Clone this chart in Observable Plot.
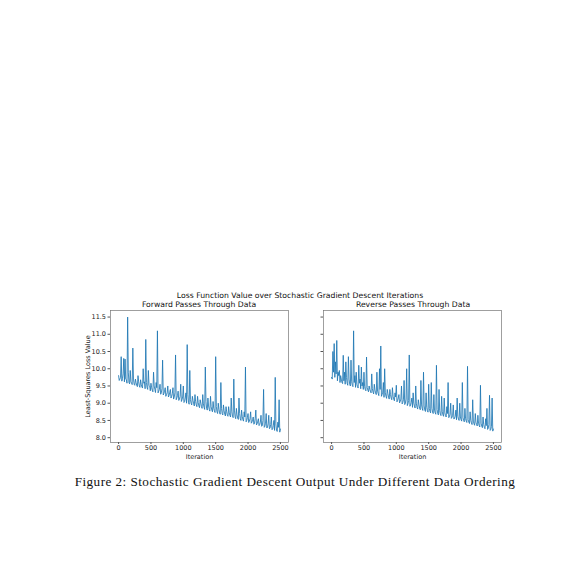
<!DOCTYPE html>
<html>
<head>
<meta charset="utf-8">
<script src="https://cdn.jsdelivr.net/npm/d3@7"></script>
<script src="https://cdn.jsdelivr.net/npm/@observablehq/plot@0.6"></script>
<style>
  html, body { margin: 0; padding: 0; background: #fff; width: 578px; height: 578px; overflow: hidden; }
  .abs { position: absolute; }
  .t { font-family: "DejaVu Sans", sans-serif; font-size: 7.7px; color: #111; white-space: nowrap; transform: translateX(-50%); }
  #caption { font-family: "Liberation Serif", serif; font-size: 13.2px; letter-spacing: 0.45px; color: #111; white-space: nowrap; transform: translateX(-50%); }
</style>
</head>
<body>
<div id="suptitle" class="abs t" style="left:300px; top:291px;">Loss Function Value over Stochastic Gradient Descent Iterations</div>
<div id="t1" class="abs t" style="left:199px; top:300px;">Forward Passes Through Data</div>
<div id="t2" class="abs t" style="left:413px; top:300px;">Reverse Passes Through Data</div>
<div id="left" class="abs" style="left:72px; top:308px;"></div>
<div id="right" class="abs" style="left:317px; top:308px;"></div>
<div id="caption" class="abs" style="left:295px; top:474px;">Figure 2: Stochastic Gradient Descent Output Under Different Data Ordering</div>
<script>
// Sampled iterations: even samples at 0,20,...,2500 and odd samples at 10,30,...,2490
const iterationsA = d3.range(0, 2501, 20);
const iterationsB = d3.range(10, 2500, 20);

// Forward passes: loss values (at iterationsA)
const forwardLossA = [
  9.80, 9.70, 10.35, 9.72, 10.30, 10.28, 9.68, 11.50, 9.60, 9.95,
  9.58, 10.60, 9.55, 9.70, 9.52, 9.80, 9.50, 9.68, 9.47, 10.00,
  9.62, 10.85, 9.45, 9.95, 9.50, 9.58, 9.38, 9.90, 9.40, 9.60,
  11.10, 9.35, 9.55, 9.30, 10.25, 9.28, 9.45, 9.25, 9.50, 9.22,
  9.40, 9.20, 9.45, 9.18, 10.40, 9.15, 9.35, 9.12, 9.55, 9.10,
  9.50, 9.05, 9.30, 10.70, 9.02, 9.95, 9.00, 9.20, 8.98, 9.25,
  8.95, 9.20, 8.92, 9.10, 8.90, 9.25, 8.88, 10.05, 8.85, 9.15,
  8.82, 9.20, 8.80, 9.05, 8.78, 10.35, 8.75, 9.00, 8.72, 9.60,
  8.70, 8.95, 8.68, 8.90, 8.65, 8.90, 8.64, 9.15, 8.62, 9.70,
  8.60, 8.85, 8.57, 9.15, 8.55, 8.80, 8.52, 8.75, 10.05, 8.50,
  8.70, 8.48, 8.75, 8.45, 8.60, 8.42, 8.80, 8.40, 8.55, 8.38,
  8.65, 8.35, 9.40, 8.33, 8.70, 8.30, 8.65, 8.28, 8.60, 8.25,
  8.50, 9.75, 8.22, 8.45, 9.10, 8.25
];
// Forward passes: loss values (at iterationsB)
const forwardLossB = [
  9.66, 9.75, 9.64, 9.85, 9.62, 9.70, 9.58, 9.90, 9.56, 9.62,
  9.54, 9.70, 9.52, 9.60, 9.48, 9.62, 9.46, 9.55, 9.44, 9.58,
  9.42, 9.60, 9.40, 9.52, 9.36, 9.45, 9.33, 9.50, 9.31, 9.45,
  9.30, 9.40, 9.26, 9.42, 9.24, 9.35, 9.20, 9.30, 9.18, 9.32,
  9.15, 9.28, 9.12, 9.30, 9.10, 9.22, 9.08, 9.20, 9.05, 9.18,
  9.02, 9.15, 9.00, 9.25, 8.97, 9.10, 8.95, 9.08, 8.92, 9.05,
  8.90, 9.02, 8.87, 9.00, 8.85, 8.98, 8.82, 9.05, 8.80, 8.92,
  8.77, 8.90, 8.75, 8.85, 8.73, 8.90, 8.70, 8.82, 8.68, 8.85,
  8.66, 8.78, 8.63, 8.75, 8.62, 8.72, 8.60, 8.75, 8.58, 8.80,
  8.55, 8.66, 8.53, 8.70, 8.50, 8.62, 8.48, 8.60, 8.46, 8.58,
  8.44, 8.55, 8.42, 8.52, 8.39, 8.55, 8.37, 8.48, 8.35, 8.45,
  8.33, 8.50, 8.30, 8.42, 8.28, 8.40, 8.26, 8.38, 8.23, 8.35,
  8.21, 8.40, 8.18, 8.30, 8.16
];

// Reverse passes: loss values (at iterationsA)
const reverseLossA = [
  9.75, 10.50, 10.73, 10.20, 10.82, 9.90, 9.95, 9.80, 9.60, 10.39,
  9.90, 10.20, 9.58, 10.35, 9.55, 10.25, 9.52, 11.10, 9.80, 9.90,
  9.48, 10.10, 9.70, 10.05, 9.60, 9.90, 9.40, 10.34, 9.38, 9.50,
  9.35, 9.85, 9.32, 9.55, 9.30, 9.90, 9.28, 10.00, 10.66, 9.25,
  9.60, 10.00, 9.20, 9.40, 9.18, 9.40, 9.15, 9.45, 9.12, 9.30,
  9.52, 9.08, 9.25, 9.05, 9.50, 9.02, 9.66, 9.00, 10.00, 8.98,
  10.40, 8.95, 9.15, 9.30, 8.92, 9.50, 8.88, 9.10, 8.86, 9.66,
  8.84, 9.90, 8.80, 9.30, 8.78, 9.55, 8.76, 9.60, 8.74, 9.25,
  8.72, 10.10, 8.70, 9.40, 8.68, 9.20, 8.66, 9.15, 8.64, 8.90,
  9.60, 8.61, 9.00, 8.59, 8.95, 8.57, 8.80, 9.15, 8.54, 9.00,
  8.52, 9.60, 8.50, 8.85, 8.48, 10.07, 8.45, 8.75, 8.43, 9.10,
  8.40, 8.70, 8.38, 8.65, 8.35, 9.52, 8.33, 8.60, 8.30, 8.55,
  8.85, 8.27, 9.23, 8.24, 9.15, 8.25
];
// Reverse passes: loss values (at iterationsB)
const reverseLossB = [
  9.70, 9.90, 9.75, 9.85, 9.65, 9.80, 9.60, 9.70, 9.57, 9.65,
  9.55, 9.75, 9.52, 9.70, 9.50, 9.62, 9.48, 9.60, 9.46, 9.55,
  9.44, 9.58, 9.42, 9.50, 9.40, 9.48, 9.36, 9.45, 9.33, 9.40,
  9.30, 9.42, 9.27, 9.38, 9.25, 9.35, 9.22, 9.40, 9.20, 9.32,
  9.17, 9.30, 9.14, 9.28, 9.12, 9.25, 9.10, 9.20, 9.07, 9.18,
  9.04, 9.15, 9.01, 9.12, 8.98, 9.10, 8.96, 9.12, 8.93, 9.08,
  8.91, 9.02, 8.88, 9.00, 8.86, 8.98, 8.83, 8.95, 8.81, 8.95,
  8.79, 8.92, 8.76, 8.88, 8.74, 8.85, 8.72, 8.85, 8.70, 8.80,
  8.68, 8.82, 8.66, 8.78, 8.64, 8.75, 8.62, 8.72, 8.60, 8.70,
  8.58, 8.68, 8.56, 8.65, 8.54, 8.62, 8.52, 8.62, 8.50, 8.60,
  8.48, 8.58, 8.46, 8.55, 8.44, 8.52, 8.41, 8.50, 8.38, 8.48,
  8.36, 8.45, 8.34, 8.42, 8.31, 8.42, 8.29, 8.38, 8.26, 8.35,
  8.24, 8.38, 8.21, 8.32, 8.19
];

const yTicks = [8.0, 8.5, 9.0, 9.5, 10.0, 10.5, 11.0, 11.5];
const xTicks = [0, 500, 1000, 1500, 2000, 2500];

const lineColor = "#1f77b4";
const fontFamily = "DejaVu Sans, sans-serif";

function buildRows(valuesA, valuesB) {
  const rows = [];
  iterationsA.forEach((it, i) => rows.push({iteration: it, loss: valuesA[i]}));
  iterationsB.forEach((it, i) => rows.push({iteration: it, loss: valuesB[i]}));
  return rows.sort((a, b) => a.iteration - b.iteration);
}

function panel(valuesA, valuesB, showYLabels) {
  const rows = buildRows(valuesA, valuesB);
  const mLeft = showYLabels ? 38 : 6;
  return Plot.plot({
    width: mLeft + 178 + 4,
    height: 2 + 132 + 22,
    marginLeft: mLeft,
    marginRight: 4,
    marginTop: 2,
    marginBottom: 22,
    style: {fontFamily, background: "transparent", color: "#222"},
    x: {domain: [-125, 2625]},
    y: {domain: [7.86, 11.69]},
    marks: [
      Plot.line(rows, {x: "iteration", y: "loss", stroke: lineColor, strokeWidth: 0.85}),
      Plot.frame({stroke: "#777", strokeWidth: 0.7}),
      Plot.axisY(yTicks, {
        tickSize: 2.5,
        tickPadding: 2,
        fontSize: 6.5,
        tickFormat: showYLabels ? d3.format(".1f") : () => "",
        label: showYLabels ? "Least-Squares Loss Value" : null,
        labelAnchor: "center",
        labelArrow: "none",
        labelOffset: 25,
        stroke: "#555"
      }),
      Plot.axisX(xTicks, {
        tickSize: 2,
        tickPadding: 0.5,
        fontSize: 6.5,
        tickFormat: d => String(d),
        label: "Iteration",
        labelAnchor: "center",
        labelArrow: "none",
        labelOffset: 16,
        stroke: "#555"
      })
    ]
  });
}

document.getElementById("left").appendChild(panel(forwardLossA, forwardLossB, true));
document.getElementById("right").appendChild(panel(reverseLossA, reverseLossB, false));
</script>
</body>
</html>
